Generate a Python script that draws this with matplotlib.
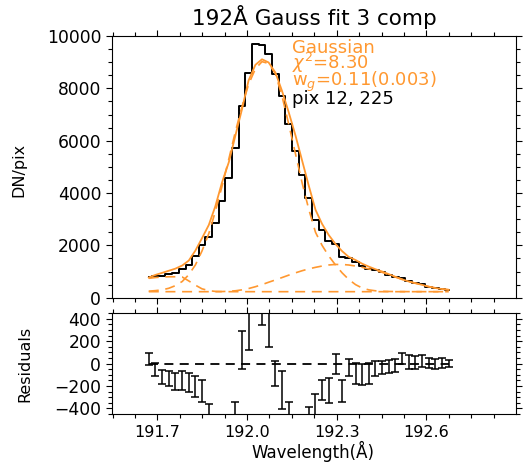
import matplotlib
matplotlib.use("Agg")
import matplotlib.pyplot as plt
from matplotlib.ticker import MultipleLocator

# ---- data (EIS 192 A line, pixel 12,225) ----
wave = [191.671, 191.693, 191.716, 191.738, 191.760, 191.783, 191.805, 191.827,
        191.849, 191.872, 191.894, 191.916, 191.939, 191.961, 191.983, 192.005,
        192.028, 192.050, 192.072, 192.095, 192.117, 192.139, 192.162, 192.184,
        192.206, 192.229, 192.251, 192.273, 192.296, 192.318, 192.340, 192.363,
        192.385, 192.407, 192.429, 192.452, 192.474, 192.496, 192.519, 192.541,
        192.563, 192.586, 192.608, 192.630, 192.652, 192.675]
counts = [810, 816, 834, 896, 952, 1081, 1252, 1594, 2027, 2310, 2850, 3700,
          4580, 5710, 7324, 8600, 9700, 9650, 9330, 8560, 7700, 6650, 5600, 4700,
          3800, 2977, 2585, 2162, 2044, 1538, 1527, 1354, 1202, 1100, 1045, 964,
          876, 785, 747, 632, 567, 514, 426, 367, 339, 303]
fit_total = [770, 870, 950, 1030, 1110, 1230, 1420, 1800, 2270, 2780, 3500, 4400,
             5180, 6200, 7200, 8300, 8900, 9110, 8990, 8600, 7900, 7100, 6200, 5250,
             4300, 3360, 2820, 2400, 2050, 1780, 1560, 1440, 1300, 1190, 1090, 1000,
             900, 800, 700, 620, 555, 490, 420, 370, 330, 300]
comp_main = [250, 270, 300, 360, 460, 620, 880, 1250, 1780, 2450, 3300, 4250,
             5300, 6350, 7300, 8150, 8750, 9020, 8950, 8550, 7700, 6650, 5500, 4400,
             3400, 2500, 2000, 1600, 1250, 950, 700, 500, 370, 300, 265, 245,
             238, 235, 233, 232, 231, 231, 230, 230, 230, 230]
comp_left = [740, 770, 790, 800, 800, 790, 640, 480, 340, 270, 240, 232,
             230, 230, 230, 230, 230, 230, 230, 230, 230, 230, 230, 230,
             230, 230, 230, 230, 230, 230, 230, 230, 230, 230, 230, 230,
             230, 230, 230, 230, 230, 230, 230, 230, 230, 230]
comp_right = [230, 230, 230, 230, 230, 230, 230, 230, 230, 230, 230, 235,
              245, 265, 300, 350, 420, 500, 590, 680, 770, 860, 950, 1030,
              1100, 1160, 1210, 1250, 1270, 1270, 1250, 1210, 1160, 1100, 1040, 970,
              880, 790, 700, 620, 555, 490, 425, 375, 335, 305]
resid = [40, -54, -116, -134, -158, -149, -168, -206, -243, -470, -650, -700,
         -600, -490, 124, 300, 800, 537, 340, -89, -233, -500, -650, -650,
         -510, -383, -235, -238, -6, -242, -33, -86, -98, -90, -45, -36,
         -24, -15, 47, 12, 12, 24, 6, -3, 9, 3]
resid_err = [55, 60, 63, 69, 75, 83, 85, 92, 100, 105, 115, 125,
             135, 150, 168, 180, 190, 190, 188, 113, 168, 160, 150, 140,
             125, 110, 92, 113, 90, 100, 79, 92, 94, 95, 69, 60,
             60, 60, 52, 64, 60, 52, 45, 48, 45, 33]

ORANGE = "#FF9830"
W, H = 523, 472
fig = plt.figure(figsize=(W / 100, H / 100), dpi=100)

def px(x0, y0, x1, y1):
    return [x0 / W, 1 - y1 / H, (x1 - x0) / W, (y1 - y0) / H]

ax1 = fig.add_axes(px(112.3, 36, 515.7, 297.7))
ax2 = fig.add_axes(px(112.3, 313.3, 515.7, 414))

ax1.step(wave, counts, where="mid", color="black", lw=1.4)
for comp in (comp_main, comp_left, comp_right):
    ax1.plot(wave, comp, color=ORANGE, lw=1.2, dashes=(6, 4))
ax1.plot(wave, fit_total, color=ORANGE, lw=1.3)

ax2.errorbar(wave, resid, yerr=resid_err, fmt="none", ecolor="black",
             elinewidth=1.1, capsize=3, capthick=1.1)
ax2.plot([wave[0], wave[-1]], [0, 0], color="black", lw=1.3, dashes=(5, 3.5))

for ax in (ax1, ax2):
    ax.set_xlim(191.549, 192.899)
    ax.xaxis.set_major_locator(MultipleLocator(0.3))
    ax.xaxis.set_minor_locator(MultipleLocator(0.075))
    ax.tick_params(which="both", direction="out", top=True, right=True, width=0.8)
    ax.tick_params(axis="x", labelsize=11.5)
    ax.tick_params(axis="y", labelsize=12.3)
    ax.tick_params(which="major", length=4.5)
    ax.tick_params(which="minor", length=2.8)
    for s in ax.spines.values():
        s.set_linewidth(0.8)

ax1.set_ylim(0, 10000)
ax1.yaxis.set_major_locator(MultipleLocator(2000))
ax1.yaxis.set_minor_locator(MultipleLocator(500))
ax1.tick_params(labelbottom=False)

ax2.set_ylim(-450, 450)
ax2.yaxis.set_major_locator(MultipleLocator(200))
ax2.yaxis.set_minor_locator(MultipleLocator(50))
ax2.xaxis.set_major_formatter(plt.FormatStrFormatter("%.1f"))

fig.text(314 / W, 1 - 25 / H, "192Å Gauss fit 3 comp", ha="center", va="baseline", fontsize=15.5)
fig.text(18.5 / W, 1 - 170 / H, "DN/pix", rotation=90, ha="center", va="center", fontsize=11.5)
fig.text(25 / W, 1 - 364 / H, "Residuals", rotation=90, ha="center", va="center", fontsize=11.5)
fig.text(313 / W, 1 - 451 / H, "Wavelength(Å)", ha="center", va="center", fontsize=12)

tx = 292 / W
fig.text(tx, 1 - 52.7 / H, "Gaussian", color=ORANGE, fontsize=13, va="baseline")
fig.text(tx, 1 - 69 / H, r"$\chi^2$=8.30", color=ORANGE, fontsize=13, va="baseline")
fig.text(tx, 1 - 85.5 / H, r"w$_g$=0.11(0.003)", color=ORANGE, fontsize=13, va="baseline")
fig.text(tx, 1 - 104 / H, "pix 12, 225", color="black", fontsize=13, va="baseline")

fig.savefig("out.png", dpi=100, facecolor="white")
